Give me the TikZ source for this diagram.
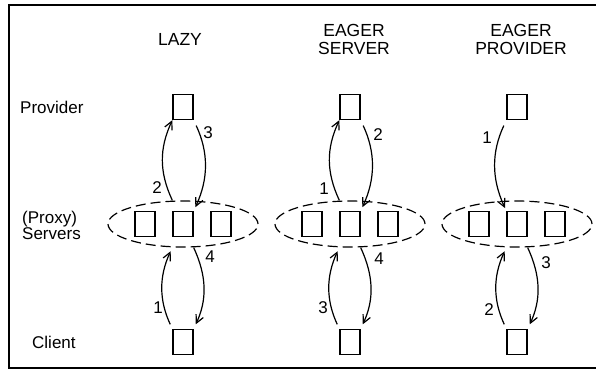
\documentclass[tikz,border=0pt]{standalone}
\usepackage{fontspec}
\setmainfont{Liberation Sans}
\usetikzlibrary{arrows.meta,shapes.geometric}
\begin{document}
\begin{tikzpicture}[x=1pt,y=-1pt,
  box/.style={draw,line width=1.3pt,minimum width=20pt,minimum height=25pt,inner sep=0pt},
  cloud/.style={draw,dash pattern=on 10pt off 5pt,line width=1.2pt,ellipse,minimum width=150pt,minimum height=46pt,inner sep=0pt},
  arr/.style={line width=1.2pt,-{Straight Barb[length=8pt,width=8pt]}},
  lbl/.style={font=\fontsize{17}{18}\selectfont,inner sep=0pt},
  head/.style={font=\fontsize{17.5}{18}\selectfont,align=center,inner sep=0pt},
  side/.style={font=\fontsize{17}{16}\selectfont,anchor=west,inner sep=0pt,align=left}]
\useasboundingbox (0,0) rectangle (596,370);
\draw[line width=2pt] (605,5) -- (8.5,5) -- (8.5,368) -- (605,368);

% headings
\node[head] (hl) at (180,39) {LAZY};
\node[head] (hs) at (354,39) {EAGER\\SERVER};
\node[head] (hp) at (521,39) {EAGER\\PROVIDER};

% side labels
\node[side] (sp) at (20,107) {Provider};
\node[side] (ss) at (22,225) {(Proxy)\\Servers};
\node[side] (sc) at (32,342) {Client};

% column 1: LAZY
\node[cloud] (E1) at (183,224) {};
\node[box] (L1) at (145,224) {};
\node[box] (M1) at (183,224) {};
\node[box] (R1) at (221,224) {};
\node[box] (P1) at (183,107) {};
\node[box] (C1) at (183,342) {};
\draw[arr] (E1.north -| M1.west) to[bend left=25] (P1.south west);
\draw[arr,shorten <=6pt,shorten >=4pt] (P1.south east) to[bend left=25] (M1.north east);
\draw[arr,shorten <=5pt,shorten >=4pt] (C1.north west) to[bend left=25] (E1.south -| M1.west);
\draw[arr,shorten >=5pt] (E1.south -| M1.east) to[bend left=25] (C1.north east);
\node[lbl] (n12) at (157,188) {2};
\node[lbl] (n13) at (208,133) {3};
\node[lbl] (n14) at (210,257) {4};
\node[lbl] (n11) at (158,308) {1};

% column 2: EAGER SERVER
\node[cloud] (E2) at (350,224) {};
\node[box] (L2) at (312,224) {};
\node[box] (M2) at (350,224) {};
\node[box] (R2) at (388,224) {};
\node[box] (P2) at (350,107) {};
\node[box] (C2) at (350,342) {};
\draw[arr] (E2.north -| M2.west) to[bend left=25] (P2.south west);
\draw[arr,shorten <=6pt,shorten >=4pt] (P2.south east) to[bend left=25] (M2.north east);
\draw[arr,shorten <=5pt,shorten >=4pt] (C2.north west) to[bend left=25] (E2.south -| M2.west);
\draw[arr,shorten >=5pt] (E2.south -| M2.east) to[bend left=25] (C2.north east);
\node[lbl] (n21) at (324,189) {1};
\node[lbl] (n22) at (378,135) {2};
\node[lbl] (n24) at (379,259) {4};
\node[lbl] (n23) at (323,308) {3};

% column 3: EAGER PROVIDER
\node[cloud] (E3) at (517,224) {};
\node[box] (L3) at (479,224) {};
\node[box] (M3) at (517,224) {};
\node[box] (R3) at (555,224) {};
\node[box] (P3) at (517,107) {};
\node[box] (C3) at (517,342) {};
\draw[arr,shorten <=6pt,shorten >=3pt] (P3.south west) to[bend right=25] (M3.north west);
\draw[arr,shorten <=5pt,shorten >=4pt] (C3.north west) to[bend left=25] (E3.south -| M3.west);
\draw[arr,shorten >=5pt] (E3.south -| M3.east) to[bend left=25] (C3.north east);
\node[lbl] (n31) at (487,138) {1};
\node[lbl] (n33) at (546,263) {3};
\node[lbl] (n32) at (489,310) {2};
\end{tikzpicture}
\end{document}
